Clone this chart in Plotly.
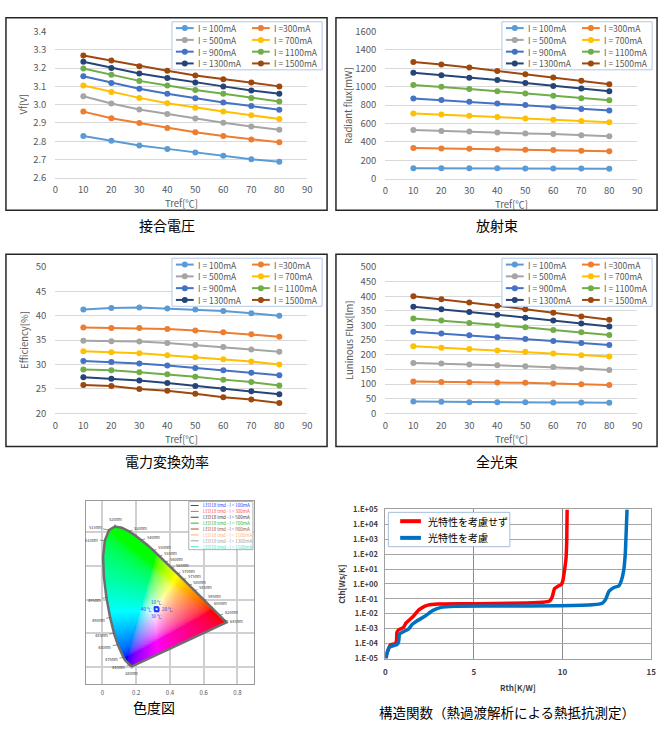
import numpy as np
import plotly.graph_objects as go

W, H = 667, 746
FONT = "Noto Sans CJK JP, Noto Sans, sans-serif"

# ---------------- data ----------------
tref = [10, 20, 30, 40, 50, 60, 70, 80]
current_labels = ["I = 100mA", "I =300mA", "I = 500mA", "I = 700mA",
                  "I = 900mA", "I = 1100mA", "I = 1300mA", "I = 1500mA"]
series_colors = ["#5B9BD5", "#ED7D31", "#A5A5A5", "#FFC000",
                 "#4472C4", "#70AD47", "#264478", "#9E480E"]

vf_100 = [2.828, 2.802, 2.777, 2.758, 2.738, 2.720, 2.701, 2.688]
vf_300 = [2.962, 2.926, 2.899, 2.872, 2.849, 2.828, 2.810, 2.794]
vf_500 = [3.046, 3.006, 2.974, 2.949, 2.924, 2.901, 2.881, 2.863]
vf_700 = [3.105, 3.069, 3.037, 3.008, 2.983, 2.962, 2.942, 2.921]
vf_900 = [3.155, 3.119, 3.087, 3.060, 3.035, 3.012, 2.992, 2.972]
vf_1100 = [3.198, 3.164, 3.130, 3.105, 3.080, 3.060, 3.037, 3.017]
vf_1300 = [3.235, 3.201, 3.171, 3.146, 3.121, 3.100, 3.078, 3.060]
vf_1500 = [3.269, 3.241, 3.210, 3.185, 3.160, 3.139, 3.121, 3.100]

rf_100 = [115, 115, 114, 114, 112, 112, 110, 108]
rf_300 = [335, 330, 326, 320, 316, 312, 305, 299]
rf_500 = [531, 520, 513, 502, 492, 485, 474, 463]
rf_700 = [709, 698, 684, 670, 656, 641, 627, 613]
rf_900 = [873, 855, 837, 819, 802, 780, 759, 741]
rf_1100 = [1019, 1001, 976, 951, 926, 901, 876, 852]
rf_1300 = [1151, 1126, 1097, 1072, 1040, 1008, 980, 951]
rf_1500 = [1268, 1243, 1208, 1172, 1137, 1101, 1065, 1026]

eff_100 = [41.3, 41.6, 41.7, 41.5, 41.3, 41.0, 40.5, 40.0]
eff_300 = [37.6, 37.5, 37.5, 37.3, 37.0, 36.6, 36.2, 35.7]
eff_500 = [34.9, 34.8, 34.7, 34.4, 34.0, 33.6, 33.1, 32.6]
eff_700 = [32.7, 32.5, 32.3, 31.9, 31.5, 31.1, 30.6, 30.0]
eff_900 = [30.7, 30.5, 30.2, 29.8, 29.3, 28.8, 28.3, 27.8]
eff_1100 = [29.0, 28.8, 28.4, 28.0, 27.5, 26.9, 26.4, 25.7]
eff_1300 = [27.4, 27.1, 26.7, 26.2, 25.6, 25.0, 24.5, 23.9]
eff_1500 = [25.8, 25.6, 25.0, 24.6, 24.0, 23.3, 22.8, 22.1]

lm_100 = [40, 39, 38, 38, 38, 37, 37, 36]
lm_300 = [109, 107, 106, 105, 104, 102, 99, 97]
lm_500 = [172, 170, 167, 164, 161, 158, 153, 148]
lm_700 = [229, 224, 220, 215, 210, 204, 198, 194]
lm_900 = [279, 273, 267, 260, 254, 247, 240, 233]
lm_1100 = [324, 317, 309, 301, 294, 285, 277, 268]
lm_1300 = [364, 356, 346, 337, 327, 317, 307, 297]
lm_1500 = [400, 390, 379, 368, 356, 344, 331, 320]

# CIE 1931 spectral locus (380-700 nm)
locus_nm = [380, 385, 390, 395, 400, 405, 410, 415, 420, 425, 430, 435, 440, 445,
            450, 455, 460, 465, 470, 475, 480, 485, 490, 495, 500, 505, 510, 515,
            520, 525, 530, 535, 540, 545, 550, 555, 560, 565, 570, 575, 580, 585,
            590, 595, 600, 605, 610, 615, 620, 625, 630, 635, 640, 645, 650, 655,
            660, 680, 700]
locus_x = [0.1741, 0.1740, 0.1738, 0.1736, 0.1733, 0.1730, 0.1726, 0.1721, 0.1714,
           0.1703, 0.1689, 0.1669, 0.1644, 0.1611, 0.1566, 0.1510, 0.1440, 0.1355,
           0.1241, 0.1096, 0.0913, 0.0687, 0.0454, 0.0235, 0.0082, 0.0039, 0.0139,
           0.0389, 0.0743, 0.1142, 0.1547, 0.1929, 0.2296, 0.2658, 0.3016, 0.3373,
           0.3731, 0.4087, 0.4441, 0.4788, 0.5125, 0.5448, 0.5752, 0.6029, 0.6270,
           0.6482, 0.6658, 0.6801, 0.6915, 0.7006, 0.7079, 0.7140, 0.7190, 0.7230,
           0.7260, 0.7283, 0.7300, 0.7334, 0.7347]
locus_y = [0.0050, 0.0050, 0.0049, 0.0049, 0.0048, 0.0048, 0.0048, 0.0048, 0.0051,
           0.0058, 0.0069, 0.0086, 0.0109, 0.0138, 0.0177, 0.0227, 0.0297, 0.0399,
           0.0578, 0.0868, 0.1327, 0.2007, 0.2950, 0.4127, 0.5384, 0.6548, 0.7502,
           0.8120, 0.8338, 0.8262, 0.8059, 0.7816, 0.7543, 0.7243, 0.6923, 0.6589,
           0.6245, 0.5896, 0.5547, 0.5202, 0.4866, 0.4544, 0.4242, 0.3965, 0.3725,
           0.3514, 0.3340, 0.3197, 0.3083, 0.2993, 0.2920, 0.2859, 0.2809, 0.2770,
           0.2740, 0.2717, 0.2700, 0.2666, 0.2653]
wl_labels = [520, 515, 510, 530, 540, 550, 555, 560, 565, 570, 575, 580, 585, 595,
             605, 620, 645, 495, 490, 485, 480, 470, 445, 380]
led_legend = ["LED18 tmd - I = 100mA", "LED18 tmd - I = 300mA", "LED18 tmd - I = 500mA",
              "LED18 tmd - I = 700mA", "LED18 tmd - I = 900mA", "LED18 tmd - I = 1100mA",
              "LED18 tmd - I = 1300mA", "LED18 tmd - I = 1500mA"]
led_colors = ["#2040FF", "#FF5050", "#404040", "#30B030", "#A05030", "#FFB070",
              "#A0A0A0", "#50E0D0"]
temp_x = [0.318, 0.321, 0.323, 0.320]
temp_y = [0.347, 0.345, 0.342, 0.340]
temp_labels = ["10 ℃", "40 ℃", "20 ℃", "30 ℃"]

# Structure function
rth_red = [0.02, 0.04, 0.19, 0.28, 0.56, 0.63, 0.65, 0.74, 1.02, 1.15, 1.30, 1.58,
           1.86, 2.13, 2.41, 2.97, 4.27, 6.12, 7.98, 8.90, 9.28, 9.42, 9.55, 9.74,
           9.93, 10.02, 10.11, 10.20, 10.24, 10.26]
cth_red = [1.0e-5, 1.7e-5, 4.6e-5, 8.3e-5, 1.0e-4, 1.6e-4, 5.6e-4, 8.3e-4, 1.2e-3,
           2.3e-3, 3.4e-3, 6.9e-3, 1.7e-2, 2.8e-2, 3.8e-2, 4.5e-2, 4.7e-2, 4.9e-2,
           5.4e-2, 6.0e-2, 7.4e-2, 1.4e-1, 4.9e-1, 7.1e-1, 9.1e-1, 1.7, 7.9, 59,
           1.2e3, 1.0e5]
rth_blue = [0.04, 0.11, 0.22, 0.46, 0.65, 0.74, 0.80, 0.93, 1.30, 1.52, 1.76, 2.23,
            2.69, 3.15, 3.90, 6.12, 9.83, 11.69, 12.24, 12.43, 12.62, 12.90, 13.18,
            13.32, 13.45, 13.54, 13.60, 13.64]
cth_blue = [1.0e-5, 2.8e-5, 5.8e-5, 7.4e-5, 8.7e-5, 1.2e-4, 4.4e-4, 5.6e-4, 9.3e-4,
            2.0e-3, 3.2e-3, 6.9e-3, 1.7e-2, 2.7e-2, 3.2e-2, 3.3e-2, 3.5e-2, 4.0e-2,
            5.1e-2, 9.3e-2, 3.2e-1, 5.8e-1, 7.4e-1, 1.7, 7.9, 100, 5.4e3, 1.0e5]
thermal_names = ["光特性を考慮せず", "光特性を考慮"]
thermal_colors = ["#FF0000", "#0070C0"]
cth_exponents = [5, 4, 3, 2, 1, 0, -1, -2, -3, -4, -5]

# ---------------- helpers ----------------
def fx(p):
    return p / W


def fy(p):
    return 1 - p / H


fig = go.Figure()
shapes = []
annotations = []


def ann(text, x, y, size=10, color="#595959", xanchor="center", yanchor="middle",
        angle=0, weight="normal"):
    annotations.append(dict(text=text, x=fx(x), y=fy(y), xref="paper", yref="paper",
                            showarrow=False, xanchor=xanchor, yanchor=yanchor,
                            textangle=angle,
                            font=dict(family=FONT, size=size, color=color, weight=weight)))


def rect(x0, y0, x1, y1, color, width=1, fill="rgba(0,0,0,0)"):
    shapes.append(dict(type="rect", xref="paper", yref="paper", x0=fx(x0), x1=fx(x1),
                       y0=fy(y1), y1=fy(y0), line=dict(color=color, width=width),
                       fillcolor=fill, layer="above"))


def hline(x0, x1, y, color, width):
    shapes.append(dict(type="line", xref="paper", yref="paper", x0=fx(x0), x1=fx(x1),
                       y0=fy(y), y1=fy(y), line=dict(color=color, width=width),
                       layer="above"))


def dot(x, y, color, r=3):
    shapes.append(dict(type="circle", xref="paper", yref="paper", xsizemode="pixel",
                       ysizemode="pixel", xanchor=fx(x), yanchor=fy(y), x0=-r, x1=r,
                       y0=-r, y1=r, fillcolor=color, line=dict(color=color, width=0),
                       layer="above"))


# ---------------- four Excel-style charts ----------------
charts = [
    dict(series=[vf_100, vf_300, vf_500, vf_700, vf_900, vf_1100, vf_1300, vf_1500],
         ytitle="Vf[V]", yrange=[2.6, 3.4], dtick=0.1, fmt=".1f",
         box=(3, 10, 328, 206), plot=(53, 24, 308, 173), title="接合電圧", ytx=17),
    dict(series=[rf_100, rf_300, rf_500, rf_700, rf_900, rf_1100, rf_1300, rf_1500],
         ytitle="Radiant flux[mW]", yrange=[0, 1600], dtick=200, fmt="d",
         box=(337, 10, 662, 206), plot=(387, 24, 642, 174), title="放射束", ytx=12),
    dict(series=[eff_100, eff_300, eff_500, eff_700, eff_900, eff_1100, eff_1300, eff_1500],
         ytitle="Efficiency[%]", yrange=[20, 50], dtick=5, fmt="d",
         box=(3, 251, 328, 447), plot=(53, 264, 308, 413), title="電力変換効率", ytx=18),
    dict(series=[lm_100, lm_300, lm_500, lm_700, lm_900, lm_1100, lm_1300, lm_1500],
         ytitle="Luninous Flux[lm]", yrange=[0, 500], dtick=50, fmt="d",
         box=(337, 251, 662, 447), plot=(387, 264, 642, 413), title="全光束", ytx=13),
]

layout_axes = {}
for ci, ch in enumerate(charts):
    n = ci + 1
    xa = "x" if n == 1 else f"x{n}"
    ya = "y" if n == 1 else f"y{n}"
    px0, py0, px1, py1 = ch["plot"]
    for si, vals in enumerate(ch["series"]):
        fig.add_trace(go.Scatter(
            x=tref, y=vals, mode="lines+markers", name=current_labels[si],
            line=dict(color=series_colors[si], width=2),
            marker=dict(color=series_colors[si], size=6),
            xaxis=xa, yaxis=ya, showlegend=False))
    layout_axes["xaxis" if n == 1 else f"xaxis{n}"] = dict(
        domain=[fx(px0), fx(px1)], anchor=ya, range=[0, 90], dtick=10, tick0=0,
        showgrid=False, zeroline=False, showline=True, linecolor="#D9D9D9",
        linewidth=1, ticks="", ticklabelstandoff=3,
        tickfont=dict(family=FONT, size=9.5, color="#595959"))
    layout_axes["yaxis" if n == 1 else f"yaxis{n}"] = dict(
        domain=[fy(py1), fy(py0)], anchor=xa, range=ch["yrange"], dtick=ch["dtick"],
        tick0=ch["yrange"][0], tickformat=ch["fmt"], showgrid=True,
        gridcolor="#D9D9D9", gridwidth=1, zeroline=False, showline=False, ticks="",
        ticklabelstandoff=8, tickfont=dict(family=FONT, size=9.5, color="#595959"))
    bx0, by0, bx1, by1 = ch["box"]
    rect(bx0, by0, bx1, by1, "#262626", 1.5)
    # axis titles
    ann(ch["ytitle"], bx0 + ch["ytx"], (py0 + py1) / 2, size=9.5, angle=-90)
    ann("Tref[℃]", (px0 + px1) / 2, py1 + 26, size=9.5)
    ann(ch["title"], (bx0 + bx1) / 2, by1 + 15, size=14, color="#000000")
    # manual legend
    rect(bx0 + 168, by0 + 4, bx0 + 320, by0 + 53, "#B4C7E7", 1, fill="white")
    for si in range(8):
        col, row = si % 2, si // 2
        ly = by0 + 10.5 + 12 * row
        lx0 = bx0 + 172 + 77 * col
        hline(lx0, lx0 + 18, ly, series_colors[si], 2)
        dot(lx0 + 9, ly, series_colors[si], 3)
        ann(current_labels[si], lx0 + 20, ly, size=8.5, xanchor="left")

# ---------------- chromaticity diagram ----------------
lx = np.array(locus_x)
ly_ = np.array(locus_y)
res = 0.004
gx = np.arange(0.0, 0.76, res)
gy = np.arange(0.0, 0.86, res)
GX, GY = np.meshgrid(gx, gy)
inside = np.zeros(GX.shape, dtype=bool)
npts = len(lx)
for i in range(npts):
    x1, y1 = lx[i], ly_[i]
    x2, y2 = lx[(i + 1) % npts], ly_[(i + 1) % npts]
    cond = (y1 > GY) != (y2 > GY)
    with np.errstate(divide="ignore", invalid="ignore"):
        xint = (x2 - x1) * (GY - y1) / (y2 - y1 + 1e-12) + x1
    inside ^= cond & (GX < xint)
Ysafe = np.maximum(GY, 1e-4)
Xc = GX / Ysafe
Zc = (1 - GX - GY) / Ysafe
M = np.array([[3.2406, -1.5372, -0.4986], [-0.9689, 1.8758, 0.0415],
              [0.0557, -0.2040, 1.0570]])
rgb = np.tensordot(M, np.stack([Xc, np.ones_like(Xc), Zc]), axes=1)
rgb = np.clip(rgb, 0, None)
rgb = rgb / np.maximum(rgb.max(axis=0, keepdims=True), 1e-9)
rgb = np.where(rgb <= 0.0031308, 12.92 * rgb, 1.055 * np.power(rgb, 1 / 2.4) - 0.055)
rgb = np.clip(rgb * 255, 0, 255)
img = np.zeros(GX.shape + (4,))
img[..., 0] = rgb[0]
img[..., 1] = rgb[1]
img[..., 2] = rgb[2]
img[..., 3] = inside.astype(float)
fig.add_trace(go.Image(z=img, colormodel="rgba", x0=gx[0], dx=res, y0=gy[0], dy=res,
                       xaxis="x5", yaxis="y5", hoverinfo="skip"))
fig.add_trace(go.Scatter(x=locus_x + [locus_x[0]], y=locus_y + [locus_y[0]],
                         mode="lines", line=dict(color="#6E6E6E", width=2.5),
                         xaxis="x5", yaxis="y5", showlegend=False, hoverinfo="skip"))
fig.add_trace(go.Scatter(x=temp_x, y=temp_y, mode="markers",
                         marker=dict(symbol="square-open", size=4, color="#2040FF",
                                     line=dict(width=1)),
                         xaxis="x5", yaxis="y5", showlegend=False))
layout_axes["xaxis5"] = dict(domain=[fx(83), fx(255)], anchor="y5", range=[-0.1, 0.9],
                             tickvals=[0, 0.2, 0.4, 0.6, 0.8],
                             ticktext=["0", "0.2", "0.4", "0.6", "0.8"],
                             showgrid=True, gridcolor="#D0D0D0", gridwidth=1.5,
                             zeroline=False, showline=True, mirror=True,
                             linecolor="#9A9A9A", linewidth=1, ticks="",
                             ticklabelstandoff=3,
                             tickfont=dict(family=FONT, size=6, color="#555555"))
layout_axes["yaxis5"] = dict(domain=[fy(689), fy(502)], anchor="x5",
                             range=[-0.1, 0.9872], autorange=False,
                             tickvals=[0, 0.2, 0.4, 0.6, 0.8], showticklabels=False,
                             showgrid=True, gridcolor="#D0D0D0", gridwidth=1.5,
                             zeroline=False, showline=True, mirror=True,
                             linecolor="#9A9A9A", linewidth=1, ticks="")
label_offsets = {520: (0, -7), 515: (-14, -3), 510: (-13, -1), 530: (12, -3),
                 540: (12, -3), 550: (11, -3), 555: (11, -3), 560: (11, -3),
                 565: (11, -3), 570: (11, -3), 575: (11, -3), 580: (11, -3),
                 585: (11, -3), 595: (10, -4), 605: (9, -5), 620: (12, -3),
                 645: (12, 1), 495: (-12, 2), 490: (-12, 3), 485: (-13, 2),
                 480: (-13, 2), 470: (-12, 2), 445: (-11, 2), 380: (0, 7)}
for wl in wl_labels:
    k = locus_nm.index(wl)
    axo, ayo = label_offsets[wl]
    annotations.append(dict(text=f"{wl}nm", x=locus_x[k], y=locus_y[k], xref="x5",
                            yref="y5", showarrow=True, arrowhead=0, arrowwidth=0.6,
                            arrowcolor="#555555", ax=axo, ay=ayo, standoff=0,
                            font=dict(family=FONT, size=4, color="#333333")))
temp_offsets = [(0, -7), (-10, 0), (11, 0), (0, 7)]
for t, (ox, oy) in zip(temp_labels, temp_offsets):
    annotations.append(dict(text=t, x=0.321, y=0.344, xref="x5", yref="y5",
                            showarrow=False, xshift=ox, yshift=-oy,
                            font=dict(family=FONT, size=4.5, color="#2040FF")))
rect(188, 503, 253, 552, "#9A9A9A", 0.8, fill="white")
for i, (name, c) in enumerate(zip(led_legend, led_colors)):
    yy = 507 + 6 * i
    hline(190, 198, yy, c, 1)
    ann(name, 200, yy, size=4.5, color=c, xanchor="left")
ann("色度図", 153, 712, size=14, color="#000000")

# ---------------- structure function ----------------
for xs, ys, nm, c in [(rth_red, cth_red, thermal_names[0], thermal_colors[0]),
                      (rth_blue, cth_blue, thermal_names[1], thermal_colors[1])]:
    fig.add_trace(go.Scatter(x=xs, y=ys, mode="lines", name=nm,
                             line=dict(color=c, width=3.5, shape="spline", smoothing=0.4),
                             xaxis="x6", yaxis="y6", showlegend=False))
layout_axes["xaxis6"] = dict(domain=[fx(387), fx(656)], anchor="y6", range=[0, 15],
                             dtick=5, showgrid=True, gridcolor="#8C8C8C", gridwidth=1,
                             zeroline=False, showline=True, mirror=True,
                             linecolor="#A0A0A0", linewidth=1, ticks="",
                             ticklabelstandoff=6,
                             tickfont=dict(family=FONT, size=8, color="#404040",
                                           weight="bold"))
layout_axes["yaxis6"] = dict(domain=[fy(663), fy(511)], anchor="x6", type="log",
                             range=[-5, 5], tickvals=[10.0 ** e for e in cth_exponents],
                             ticktext=[f"1.E{'+' if e >= 0 else '-'}{abs(e):02d}"
                                       for e in cth_exponents],
                             showgrid=True, gridcolor="#A6A6A6", gridwidth=1,
                             zeroline=False, showline=True, mirror=True,
                             linecolor="#A0A0A0", linewidth=1, ticks="",
                             ticklabelstandoff=5,
                             tickfont=dict(family=FONT, size=7.5, color="#404040",
                                           weight="bold"))
ann("Cth[Ws/K]", 343, 587, size=8, color="#404040", angle=-90, weight="bold")
ann("Rth[K/W]", 521, 692, size=8, color="#404040", weight="bold")
rect(390, 514, 513, 549, "#A6BDD7", 1, fill="white")
for i in range(2):
    yy = 523 + 17 * i
    hline(402, 423, yy, thermal_colors[i], 4)
    ann(thermal_names[i], 428, yy, size=10, color="#000000", xanchor="left")
ann("構造関数（熱過渡解析による熱抵抗測定）", 510, 717, size=13.5, color="#000000")

fig.update_layout(width=W, height=H, margin=dict(l=0, r=0, t=0, b=0),
                  paper_bgcolor="white", plot_bgcolor="white", showlegend=False,
                  shapes=shapes, annotations=annotations, **layout_axes)
fig.write_html("out.html", config={"displayModeBar": False},
               post_script="document.body.style.margin='0';"
                           "document.body.style.overflow='hidden';")
